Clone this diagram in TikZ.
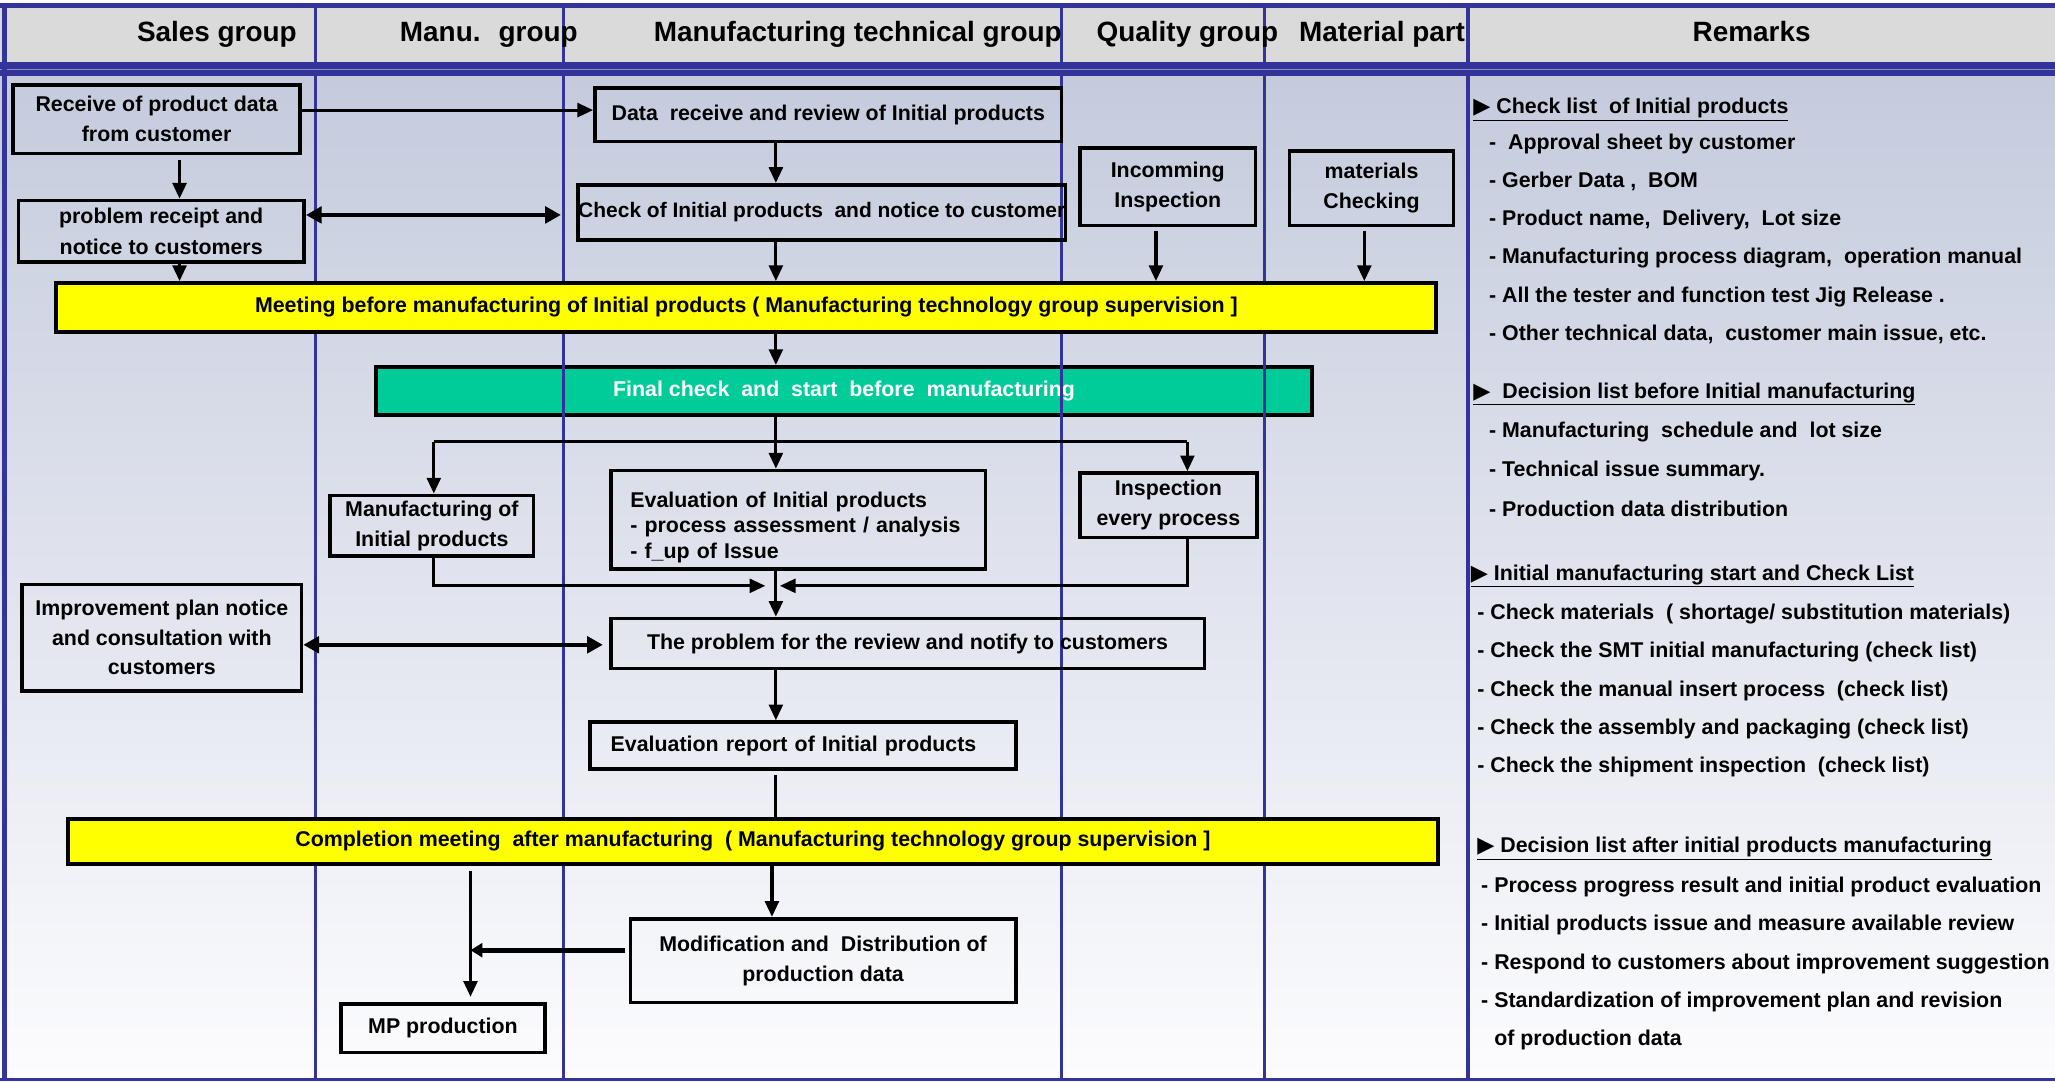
\documentclass[tikz,border=0pt]{standalone}
\usepackage{fontspec}
\setmainfont{Liberation Sans}
\newfontfamily\dejavu{DejaVu Sans}
\usetikzlibrary{arrows.meta,calc}
\definecolor{laneblue}{RGB}{51,51,153}
\definecolor{lightband}{RGB}{140,140,200}
\definecolor{hdrgray}{RGB}{218,218,218}
\definecolor{bodytop}{RGB}{197,203,221}
\definecolor{bodybot}{RGB}{252,252,254}
\definecolor{yellowbar}{RGB}{255,255,0}
\definecolor{greenbar}{RGB}{0,204,153}
\newcommand{\tri}{{\dejavu\fontsize{17}{18}\selectfont ▶}}
\tikzset{
 hdr/.style={font=\bfseries\fontsize{21.3}{25}\selectfont, inner sep=0pt, anchor=base},
 box/.style={draw=black, line width=2.8pt, align=center, inner sep=1pt, font=\bfseries\fontsize{16.3}{23}\selectfont},
 bar/.style={box, line width=3pt, fill=yellowbar},
 rem/.style={font=\bfseries\fontsize{16.3}{20}\selectfont, anchor=west, inner sep=0pt, yshift=-2.5pt},
 arr/.style={line width=2.4pt, -{Triangle[length=12pt,width=10.5pt]}},
 dbl/.style={line width=3pt, {Triangle[length=12pt,width=12.5pt]}-{Triangle[length=12pt,width=12.5pt]}},
 lane/.style={draw=laneblue, line width=2.2pt},
}
\begin{document}
\begin{tikzpicture}[x=1pt,y=-1pt]
\useasboundingbox (0,0) rectangle (1568,825);
% background
\fill[white] (0,0) rectangle (1568,825);
\fill[hdrgray] (0,5) rectangle (1568,48);
\shade[top color=bodytop, bottom color=bodybot] (0,58) rectangle (1568,823);
% green bar (below lane lines)
\node[box, line width=3pt, fill=greenbar, text=white, minimum width=714pt, minimum height=37pt] (final) at (644,298.5) {Final check~ and~ start~ before~ manufacturing};
% lanes
\draw[lane] (241,3) -- (241,825);
\draw[lane] (430,3) -- (430,825);
\draw[lane] (810,3) -- (810,825);
\draw[lane] (965,3) -- (965,825);
\draw[lane, line width=2.8pt] (1120,3) -- (1120,825);
% frame bands
\fill[laneblue] (0,2.3) rectangle (1568,5.8);
\fill[laneblue] (0,47.3) rectangle (1568,58);
\fill[lightband] (0,52.4) rectangle (1568,53.4);
\fill[laneblue] (0,822.6) rectangle (1568,825);
\fill[laneblue] (1.4,2.3) rectangle (5.2,825);
% headers
\node[hdr] (h1) at (165.5,31.5) {Sales group};
\node[hdr] (h2) at (373,31.5) {Manu.~ group};
\node[hdr] (h3) at (654.5,31.5) {Manufacturing technical group};
\node[hdr] (h4) at (906,31.5) {Quality group};
\node[hdr] (h5) at (1054.5,31.5) {Material part};
\node[hdr] (h6) at (1336.5,31.5) {Remarks};
% boxes
\node[box, minimum width=219pt, minimum height=52pt] (rec) at (119.5,91) {Receive of product data\\from customer};
\node[box, minimum width=218pt, minimum height=47pt] (prob) at (123,176.5) {problem receipt and\\notice to customers};
\node[box, minimum width=356pt, minimum height=41pt] (data) at (632,87.5) {Data~ receive and review of Initial products};
\node[box, font=\bfseries\fontsize{16}{20}\selectfont, inner sep=0pt, minimum width=372pt, minimum height=42pt] (check) at (627,162) {Check of Initial products~ and notice to customer};
\node[box, minimum width=134pt, minimum height=59pt] (inc) at (891,142.5) {Incomming\\Inspection};
\node[box, minimum width=125pt, minimum height=57pt] (mat) at (1046.5,143.5) {materials\\Checking};
\node[bar, minimum width=1053pt, minimum height=37pt] (meet) at (569.5,234.5) {Meeting before manufacturing of Initial products ( Manufacturing technology group supervision ]};
\node[box, minimum width=155pt, minimum height=46pt] (manu) at (329.5,401) {Manufacturing of\\Initial products};
\node[box, font=\bfseries\fontsize{16.3}{19.5}\selectfont, align=left, text width=256pt, inner xsep=15pt, minimum height=75pt] (eval) at (609,396.5) {\rule{0pt}{23.5pt}Evaluation of Initial products\\- process assessment / analysis\\- f\_up of Issue};
\node[box, minimum width=135pt, minimum height=49pt] (insp) at (891.5,385.5) {Inspection\\every process};
\node[box, font=\bfseries\fontsize{16.3}{22.5}\selectfont, minimum width=213pt, minimum height=81pt] (impr) at (123.5,486.5) {Improvement plan notice\\and consultation with\\customers};
\node[box, minimum width=453pt, minimum height=38pt] (prob2) at (692.5,491) {The problem for the review and notify to customers};
\node[box, align=left, text width=293pt, inner xsep=16pt, minimum height=36pt] (rep) at (612.5,569) {Evaluation report of Initial products};
\node[bar, minimum width=1045pt, minimum height=34pt] (comp) at (574.5,642) {Completion meeting~ after manufacturing~ ( Manufacturing technology group supervision ]};
\node[box, minimum width=294pt, minimum height=64pt] (mod) at (628,733) {Modification and~ Distribution of\\production data};
\node[box, minimum width=156pt, minimum height=37pt] (mp) at (338,784.5) {MP production};
% guide coordinates
\coordinate (xa) at (137,0);
\coordinate (xm) at (592,0);
\coordinate (xq) at (882,0);
\coordinate (xt) at (1041,0);
\coordinate (xl) at (331,0);
\coordinate (xr) at (906,0);
\coordinate (xp) at (359,0);
\coordinate (xd) at (589,0);
\coordinate (ya) at (0,84);
\coordinate (yb) at (0,337);
\coordinate (yt) at (0,725);
\coordinate (cT) at (428,164);
\coordinate (oT) at (460,492);
\coordinate (mL) at (584,447);
\coordinate (mR) at (595,447);
% connectors
\draw[arr] (rec.east |- ya) -- (data.west |- ya);
\draw[arr] ($(rec.south -| xa)+(0,4)$) -- (prob.north -| xa);
\draw[dbl] (prob.east |- cT) -- (cT);
\draw[arr] (data.south -| xm) -- (check.north -| xm);
\draw[arr] (check.south -| xm) -- (meet.north -| xm);
\draw[arr] (prob.south -| xa) -- (meet.north -| xa);
\draw[arr] ($(inc.south -| xq)+(0,3)$) -- (meet.north -| xq);
\draw[arr] ($(mat.south -| xt)+(0,3)$) -- (meet.north -| xt);
\draw[arr] (meet.south -| xm) -- (final.north -| xm);
\draw[arr] (final.south -| xm) -- (eval.north -| xm);
\draw[line width=2.4pt] (xl |- yb) -- (xr |- yb);
\draw[arr] (xl |- yb) -- (manu.north -| xl);
\draw[arr] (xr |- yb) -- (insp.north -| xr);
\draw[arr] (manu.south -| xl) |- (mL);
\draw[arr] (insp.south -| xr) |- (mR);
\draw[arr] (eval.south -| xm) -- (prob2.north -| xm);
\draw[dbl] (impr.east |- oT) -- (oT);
\draw[arr] (prob2.south -| xm) -- (rep.north -| xm);
\draw[line width=2.4pt] ($(rep.south -| xm)+(0,3)$) -- (comp.north -| xm);
\draw[arr] (comp.south -| xd) -- (mod.north -| xd);
\draw[arr] ($(comp.south -| xp)+(0,4)$) -- ($(mp.north -| xp)+(0,-4)$);
\draw[line width=3.8pt, -{Triangle[length=9pt,width=10.5pt]}] ($(mod.west |- yt)+(-3,0)$) -- (xp |- yt);
% remarks
\node[rem] (r1) at (1124,81) {\underline{\tri\ Check list~ of Initial products}};
\node[rem] (r2) at (1136,107) {-~ Approval sheet by customer};
\node[rem] (r3) at (1136,136) {- Gerber Data ,~ BOM};
\node[rem] (r4) at (1136,165) {- Product name,~ Delivery,~ Lot size};
\node[rem] (r5) at (1136,194) {- Manufacturing process diagram,~ operation manual};
\node[rem] (r6) at (1136,224) {- All the tester and function test Jig Release .};
\node[rem] (r7) at (1136,253) {- Other technical data,~ customer main issue, etc.};
\node[rem] (r8) at (1124,298) {\underline{\tri~ Decision list before Initial manufacturing}};
\node[rem] (r9) at (1136,327) {- Manufacturing~ schedule and~ lot size};
\node[rem] (r10) at (1136,357) {- Technical issue summary.};
\node[rem] (r11) at (1136,386) {- Production data distribution};
\node[rem] (r12) at (1122,437) {\underline{\tri\ Initial manufacturing start and Check List}};
\node[rem] (r13) at (1127,466) {- Check materials~ ( shortage/ substitution materials)};
\node[rem] (r14) at (1127,495) {- Check the SMT initial manufacturing (check list)};
\node[rem] (r15) at (1127,525) {- Check the manual insert process~ (check list)};
\node[rem] (r16) at (1127,554) {- Check the assembly and packaging (check list)};
\node[rem] (r17) at (1127,583) {- Check the shipment inspection~ (check list)};
\node[rem] (r18) at (1127,645) {\underline{\tri\ Decision list after initial products manufacturing}};
\node[rem] (r19) at (1130,674) {- Process progress result and initial product evaluation};
\node[rem] (r20) at (1130,703) {- Initial products issue and measure available review};
\node[rem] (r21) at (1130,733) {- Respond to customers about improvement suggestion};
\node[rem] (r22) at (1130,762) {- Standardization of improvement plan and revision};
\node[rem] (r23) at (1140,791) {of production data};
\end{tikzpicture}
\end{document}
